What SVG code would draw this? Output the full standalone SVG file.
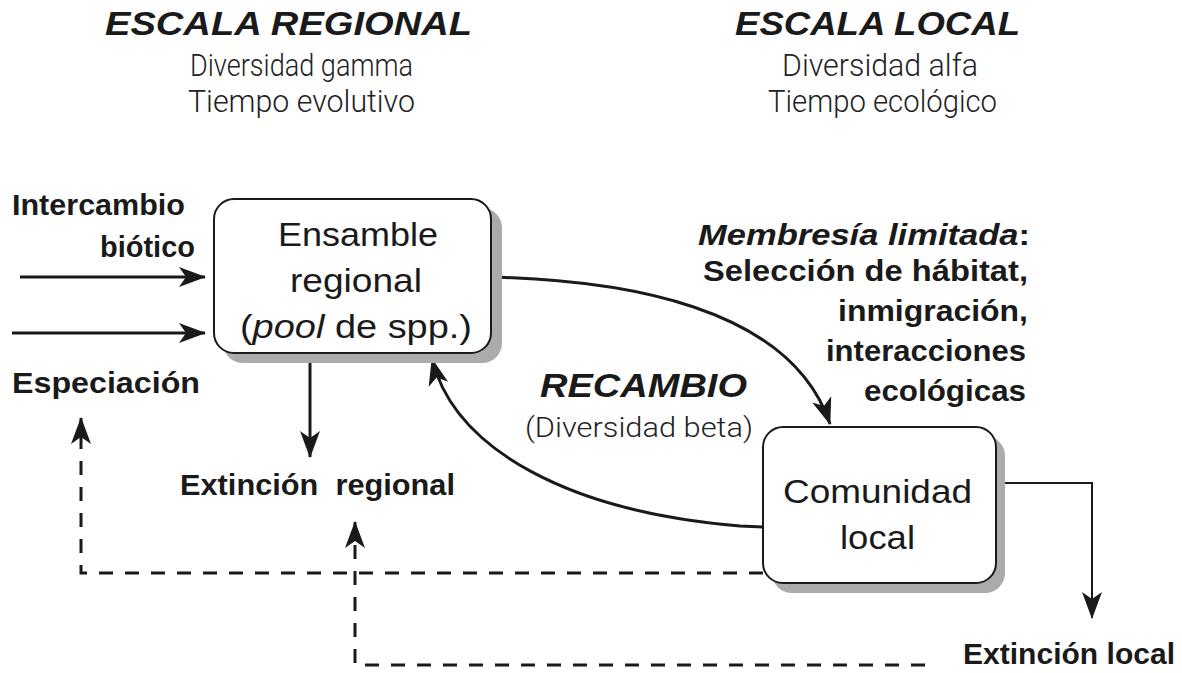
<svg xmlns="http://www.w3.org/2000/svg" width="1182" height="673" viewBox="0 0 1182 673">
<style>
.b{font-family:"Liberation Sans",Arial,sans-serif;font-weight:bold;fill:#1a1a1a}
.bi{font-family:"Liberation Sans",Arial,sans-serif;font-weight:bold;font-style:italic;fill:#1a1a1a}
.r{font-family:"Liberation Sans",Arial,sans-serif;fill:#1a1a1a}
.l{font-family:Roboto,"Liberation Sans",sans-serif;font-weight:300;fill:#222}
.box{fill:#fff;stroke:#1a1a1a;stroke-width:2}
.sh{fill:#ababab}
.ln{fill:none;stroke:#1a1a1a;stroke-width:3}
.dash{fill:none;stroke:#1a1a1a;stroke-width:3;stroke-dasharray:14 12}
</style>
<defs>
<marker id="ah" viewBox="-28 -11 30 22" refX="0" refY="0" markerWidth="30" markerHeight="22" markerUnits="userSpaceOnUse" orient="auto">
<path d="M1,0 L-26,-10 L-19,0 L-26,10 Z" fill="#1a1a1a"/>
</marker>
</defs>
<rect width="1182" height="673" fill="#fff"/>

<g id="heading-regional">
<text class="bi" x="105" y="35" font-size="34" textLength="367" lengthAdjust="spacingAndGlyphs">ESCALA REGIONAL</text>
<text class="l" x="190" y="76" font-size="31" textLength="223" lengthAdjust="spacingAndGlyphs">Diversidad gamma</text>
<text class="l" x="188" y="112" font-size="31" textLength="227" lengthAdjust="spacingAndGlyphs">Tiempo evolutivo</text>
</g>
<g id="heading-local">
<text class="bi" x="735" y="35" font-size="34" textLength="285" lengthAdjust="spacingAndGlyphs">ESCALA LOCAL</text>
<text class="l" x="782" y="76" font-size="31" textLength="196" lengthAdjust="spacingAndGlyphs">Diversidad alfa</text>
<text class="l" x="768" y="112" font-size="31" textLength="229" lengthAdjust="spacingAndGlyphs">Tiempo ecológico</text>
</g>

<g id="connectors">
<path class="ln" d="M20,277 H205" marker-end="url(#ah)"/>
<path class="ln" d="M12,333 H205" marker-end="url(#ah)"/>
<path class="ln" d="M310,354 V457" marker-end="url(#ah)"/>
<path class="ln" d="M489,277 C620,280 790,305 830,424" marker-end="url(#ah)"/>
<path class="ln" d="M763,527 L740,526 C570,512 455,450 432,359" marker-end="url(#ah)"/>
<path class="ln" style="stroke-width:2" d="M1000,483 H1092 V618" marker-end="url(#ah)"/>
<path class="dash" d="M763,573 H81 V418" marker-end="url(#ah)"/>
<path class="dash" d="M925,665 H355 V522" marker-end="url(#ah)"/>
</g>

<g id="node-ensamble">
<rect class="sh" x="223" y="208" width="279" height="155" rx="20"/>
<rect class="box" x="214" y="199" width="277" height="154" rx="20"/>
<text class="r" x="278" y="246" font-size="34" textLength="160" lengthAdjust="spacingAndGlyphs">Ensamble</text>
<text class="r" x="290" y="292" font-size="34" textLength="132" lengthAdjust="spacingAndGlyphs">regional</text>
<text class="r" x="240" y="338" font-size="34" textLength="232" lengthAdjust="spacingAndGlyphs">(<tspan font-style="italic">pool</tspan> de spp.)</text>
</g>

<g id="node-comunidad">
<rect class="sh" x="772" y="436" width="233" height="157" rx="20"/>
<rect class="box" x="763" y="427" width="233" height="156" rx="20"/>
<text class="r" x="783" y="503" font-size="34" textLength="189" lengthAdjust="spacingAndGlyphs">Comunidad</text>
<text class="r" x="840" y="549" font-size="34" textLength="75" lengthAdjust="spacingAndGlyphs">local</text>
</g>

<g id="label-intercambio">
<text class="b" x="12" y="215" font-size="30" textLength="173" lengthAdjust="spacingAndGlyphs">Intercambio</text>
<text class="b" x="100" y="257" font-size="30" textLength="95" lengthAdjust="spacingAndGlyphs">biótico</text>
</g>
<g id="label-especiacion">
<text class="b" x="12" y="393" font-size="30" textLength="188" lengthAdjust="spacingAndGlyphs">Especiación</text>
</g>
<g id="label-extincion-regional">
<text class="b" x="180" y="495" font-size="30" textLength="275" lengthAdjust="spacingAndGlyphs" xml:space="preserve">Extinción  regional</text>
</g>
<g id="label-recambio">
<text class="bi" x="540" y="397" font-size="33" textLength="207" lengthAdjust="spacingAndGlyphs">RECAMBIO</text>
<text class="l" x="525" y="437" font-size="28" textLength="228" lengthAdjust="spacingAndGlyphs">(Diversidad beta)</text>
</g>
<g id="label-membresia" text-anchor="end">
<text class="b" x="1030" y="245" font-size="30" textLength="332" lengthAdjust="spacingAndGlyphs"><tspan font-style="italic">Membresía limitada</tspan>:</text>
<text class="b" x="1028" y="281" font-size="30" textLength="325" lengthAdjust="spacingAndGlyphs">Selección de hábitat,</text>
<text class="b" x="1028" y="321" font-size="30" textLength="190" lengthAdjust="spacingAndGlyphs">inmigración,</text>
<text class="b" x="1026" y="361" font-size="30" textLength="200" lengthAdjust="spacingAndGlyphs">interacciones</text>
<text class="b" x="1026" y="401" font-size="30" textLength="162" lengthAdjust="spacingAndGlyphs">ecológicas</text>
</g>
<g id="label-extincion-local">
<text class="b" x="963" y="664" font-size="30" textLength="212" lengthAdjust="spacingAndGlyphs">Extinción local</text>
</g>
</svg>
